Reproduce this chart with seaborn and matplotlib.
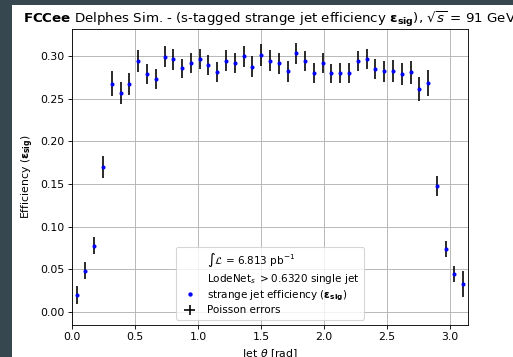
import numpy as np
import pandas as pd
import matplotlib
matplotlib.use("Agg")
import matplotlib.pyplot as plt
from matplotlib.lines import Line2D
from matplotlib.patches import Rectangle
import seaborn as sns

# ---- data ----
n_bins = 45
theta_centers = (np.arange(n_bins) + 0.5) * np.pi / n_bins
efficiency = [0.0196, 0.0482, 0.0775, 0.1700, 0.2678, 0.2572, 0.2678, 0.2948, 0.2792,
              0.2733, 0.2995, 0.2964, 0.2858, 0.2921, 0.2972, 0.2901, 0.2812, 0.2948,
              0.2921, 0.2999, 0.2878, 0.3015, 0.2948, 0.2921, 0.2823, 0.3035, 0.2945,
              0.2807, 0.2917, 0.2800, 0.2807, 0.2807, 0.2948, 0.2968, 0.2847, 0.2823,
              0.2831, 0.2788, 0.2812, 0.2616, 0.2690, 0.1475, 0.0736, 0.0443, 0.0325]
poisson_err = [0.0108, 0.0098, 0.0098, 0.0125, 0.0149, 0.0131, 0.0129, 0.0129, 0.0123,
               0.0117, 0.0125, 0.0121, 0.0114, 0.0117, 0.0119, 0.0115, 0.0119, 0.0121,
               0.0121, 0.0126, 0.0121, 0.0125, 0.0123, 0.0123, 0.0120, 0.0121, 0.0121,
               0.0117, 0.0117, 0.0115, 0.0115, 0.0115, 0.0117, 0.0121, 0.0117, 0.0121,
               0.0127, 0.0129, 0.0135, 0.0137, 0.0153, 0.0121, 0.0098, 0.0094, 0.0153]
x_ticks = [0.0, 0.5, 1.0, 1.5, 2.0, 2.5, 3.0]
y_ticks = [0.00, 0.05, 0.10, 0.15, 0.20, 0.25, 0.30]

df = pd.DataFrame({"theta": theta_centers, "eff": efficiency, "err": poisson_err})

DPI = 78
fig = plt.figure(figsize=(513 / DPI, 357 / DPI), dpi=DPI)
fig.patch.set_facecolor("#37474f")
fig.add_artist(Rectangle((12 / 513, 0), 1, (357 - 4.7) / 357, transform=fig.transFigure,
                         facecolor="white", edgecolor="none", zorder=-10))

ax = fig.add_axes([72.3 / 513, 32.3 / 357, 395.3 / 513, 295.7 / 357])

ax.errorbar(df["theta"], df["eff"], yerr=df["err"], xerr=0, fmt="none",
            ecolor="black", elinewidth=1.5, zorder=2)
sns.scatterplot(data=df, x="theta", y="eff", color="blue", marker="o", s=14,
                linewidth=0, ax=ax, zorder=3, legend=False)

ax.set_xlim(0, np.pi)
ax.set_ylim(-0.0153, 0.3321)
ax.set_xticks(x_ticks)
ax.set_yticks(y_ticks)
ax.set_yticklabels([f"{v:.2f}" for v in y_ticks])
ax.set_xticklabels([f"{v:.1f}" for v in x_ticks])
ax.grid(True, color="#b0b0b0", linewidth=0.8)
ax.set_axisbelow(True)

ax.set_xlabel(r"Jet $\theta$ [rad]")
ax.set_ylabel(r"Efficiency ($\mathbf{\varepsilon_{sig}}$)")
ax.set_title(r"$\bf{FCCee}$ Delphes Sim. - (s-tagged strange jet efficiency "
             r"$\mathbf{\varepsilon_{sig}}$), $\sqrt{s}$ = 91 GeV", fontsize=12.3)

# legend
empty = Line2D([], [], linestyle="none", marker="none")
dot = Line2D([], [], linestyle="none", marker=".", color="blue")
eb = ax.errorbar([], [], yerr=[], xerr=[], fmt="none", ecolor="black", elinewidth=1.5)
handles = [empty, empty, dot, eb]
labels = [r"$\int\mathcal{L}$ = 6.813 pb$^{-1}$",
          r"LodeNet$_s$ $>$0.6320 single jet",
          r"strange jet efficiency ($\mathbf{\varepsilon_{sig}}$)",
          "Poisson errors"]
ax.legend(handles, labels, loc="lower center", fontsize=9.6, labelspacing=0.25,
          handlelength=1.8)

fig.savefig("out.png", dpi=DPI, facecolor=fig.get_facecolor())
